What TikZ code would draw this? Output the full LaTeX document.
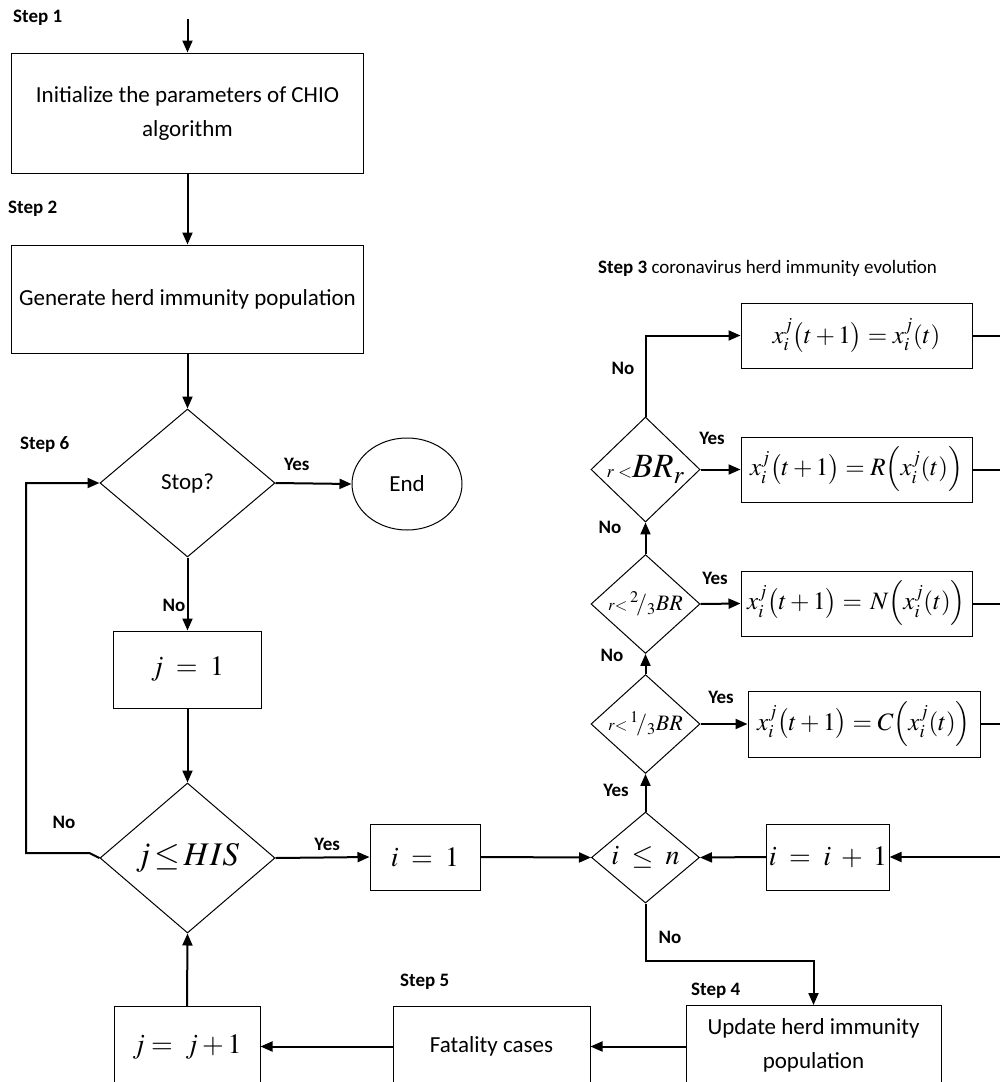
\documentclass[tikz,border=0pt]{standalone}
\usepackage{mathptmx}
\usepackage[no-math]{fontspec}
\setmainfont{Carlito}
\usetikzlibrary{shapes.geometric,arrows.meta,calc}

\begin{document}
\begin{tikzpicture}[x=1pt,y=-1pt,
  box/.style={draw, line width=1pt, rectangle, inner sep=2pt, align=center,
              font=\fontsize{23}{34}\selectfont},
  eqbox/.style={box, font=\fontsize{28}{30}\selectfont},
  rulebox/.style={box, font=\fontsize{25}{28}\selectfont},
  dia/.style={draw, line width=1pt, diamond, inner sep=0pt,
              font=\fontsize{23}{26}\selectfont},
  conn/.style={line width=2pt, -{Triangle[length=12pt,width=10pt]}},
  wire/.style={line width=2pt},
  lbl/.style={font=\fontsize{19}{20}\selectfont\bfseries, inner sep=0pt},
]
\clip (0,0) rectangle (1000,1082);

% ---------- left column ----------
\coordinate (start) at (187.5,19);
\node[box, minimum width=352, minimum height=120] (init) at (187.5,113)
  {Initialize the parameters of CHIO\\algorithm};
\node[box, minimum width=352, minimum height=108] (gen) at (187.5,299)
  {Generate herd immunity population};
\node[dia, minimum width=175, minimum height=148] (stop) at (187.5,483) {Stop?};
\node[draw, ellipse, line width=1pt, minimum width=110, minimum height=92,
      font=\fontsize{23}{26}\selectfont] (end) at (407,484) {End};
\node[eqbox, minimum width=148, minimum height=77] (j1) at (187.5,669.5) {$j\;=\;1$};
\node[dia, minimum width=175, minimum height=150] (his) at (187.5,858)
  {\fontsize{33}{33}\selectfont$j\!\le\! HIS$};
\coordinate (lp) at (26,853);

% ---------- middle row ----------
\node[eqbox, minimum width=110, minimum height=66] (i1) at (425,857) {$i\;=\;1$};
\node[dia, minimum width=108, minimum height=91] (iln) at (645.5,857.5)
  {\fontsize{28}{28}\selectfont$i\;\le\;n$};
\node[eqbox, minimum width=110, minimum height=66] (iinc) at (828,857)
  {$i\;=\;i\;+\;1$};
\coordinate (rail) at (1005,857);

% ---------- bottom row ----------
\node[eqbox, anchor=north, minimum width=146, minimum height=82] (jinc) at (187,1006)
  {$j=\;j+1$};
\node[box, anchor=north, minimum width=197, minimum height=80] (fat) at (491.5,1006)
  {Fatality cases};
\node[box, anchor=north, minimum width=255, minimum height=80] (upd) at (813.5,1005)
  {Update herd immunity\\population};

% ---------- right column: evolution rules ----------
\node[dia, minimum width=109, minimum height=91] (dR) at (645.5,469.5)
  {{\fontsize{18}{18}\selectfont$r<$}{\fontsize{34}{34}\selectfont$BR_r$}};
\node[dia, minimum width=109, minimum height=92] (d2) at (645.5,604)
  {\fontsize{22}{22}\selectfont${\scriptstyle r<}\,{}^{2}\!/_{3}BR$};
\node[dia, minimum width=109, minimum height=92] (d1) at (645.5,724)
  {\fontsize{22}{22}\selectfont${\scriptstyle r<}\,{}^{1}\!/_{3}BR$};

\node[rulebox, minimum width=231, minimum height=65] (f1) at (856.5,335.5)
  {$x_i^j\bigl(t+1\bigr)=x_i^j(t)$};
\node[rulebox, minimum width=231, minimum height=65] (fR) at (856.5,469.5)
  {$x_i^j\bigl(t+1\bigr)=R\Bigl(x_i^j(t)\Bigr)$};
\node[rulebox, minimum width=231, minimum height=65] (fN) at (856.5,603.5)
  {$x_i^j\bigl(t+1\bigr)=\,N\Bigl(x_i^j(t)\Bigr)$};
\node[rulebox, minimum width=232, minimum height=66] (fC) at (864,724)
  {$x_i^j\bigl(t+1\bigr)=C\Bigl(x_i^j(t)\Bigr)$};

% ---------- step captions ----------
\node[lbl, anchor=west] (s1) at (13,18) {Step 1};
\node[lbl, anchor=west] (s2) at (8,209) {Step 2};
\node[lbl, anchor=west] (s3) at (598,268)
  {Step 3 \mdseries coronavirus herd immunity evolution};
\node[lbl, anchor=west] (s4) at (691,991) {Step 4};
\node[lbl, anchor=west] (s5) at (400,982) {Step 5};
\node[lbl, anchor=west] (s6) at (20,445) {Step 6};

% ---------- connectors ----------
\draw[conn] (start) -- (init.north);
\draw[conn] (init.south) -- (gen.north);
\draw[conn] (gen.south) -- (stop.north);
\draw[conn] (stop.east) -- (end.west) node[lbl, pos=0.28, above=12pt] {Yes};
\draw[conn] (stop.south) -- (j1.north);
\node[lbl] (nostop) at (174,605) {No};
\draw[conn] (j1.south) -- (his.north);
\draw[conn] (his.west) -- ++(-10,-5) -- (lp) |- (stop.west);
\node[lbl] (nohis) at (64,822) {No};
\draw[conn] (his.east) -- (i1.west) node[lbl, pos=0.55, above=6pt] {Yes};
\draw[conn] (i1.east) -- (iln.west);
\draw[conn] (iinc.west) -- (iln.east);
\draw[conn] (rail) -- (iinc.east);
\draw[conn] (iln.south) -- ++(0,57) -| (upd.north);
\node[lbl] (noiln) at (670,937) {No};
\draw[conn] (upd.west |- fat.center) -- (fat.east);
\draw[conn] (fat.west) -- (jinc.east |- fat.center);
\draw[conn] (jinc.north) -- (his.south);

\draw[conn] (iln.north) -- (d1.south);
\node[lbl] (yesiln) at (616,790) {Yes};
\draw[conn] (d1.east) -- (fC.west);
\node[lbl] (yesd1) at (721,697) {Yes};
\draw[conn] (d1.north) -- (d2.south);
\node[lbl] (nod1) at (612,655) {No};
\draw[conn] (d2.east) -- (fN.west);
\node[lbl] (yesd2) at (715,578) {Yes};
\draw[conn] (d2.north) -- (dR.south);
\node[lbl] (nod2) at (610,527) {No};
\draw[conn] (dR.east) -- (fR.west);
\node[lbl] (yesdR) at (712,438) {Yes};
\draw[conn] (dR.north) |- (f1.west);
\node[lbl] (nodR) at (623,368) {No};

% outputs of the rules join the return rail on the right
\draw[wire] (f1.east) -- (f1.east -| rail);
\draw[wire] (fR.east) -- (fR.east -| rail);
\draw[wire] (fN.east) -- (fN.east -| rail);
\draw[wire] (fC.east) -- (fC.east -| rail);
\draw[wire] (f1.east -| rail) -- (rail);
\end{tikzpicture}
\end{document}
